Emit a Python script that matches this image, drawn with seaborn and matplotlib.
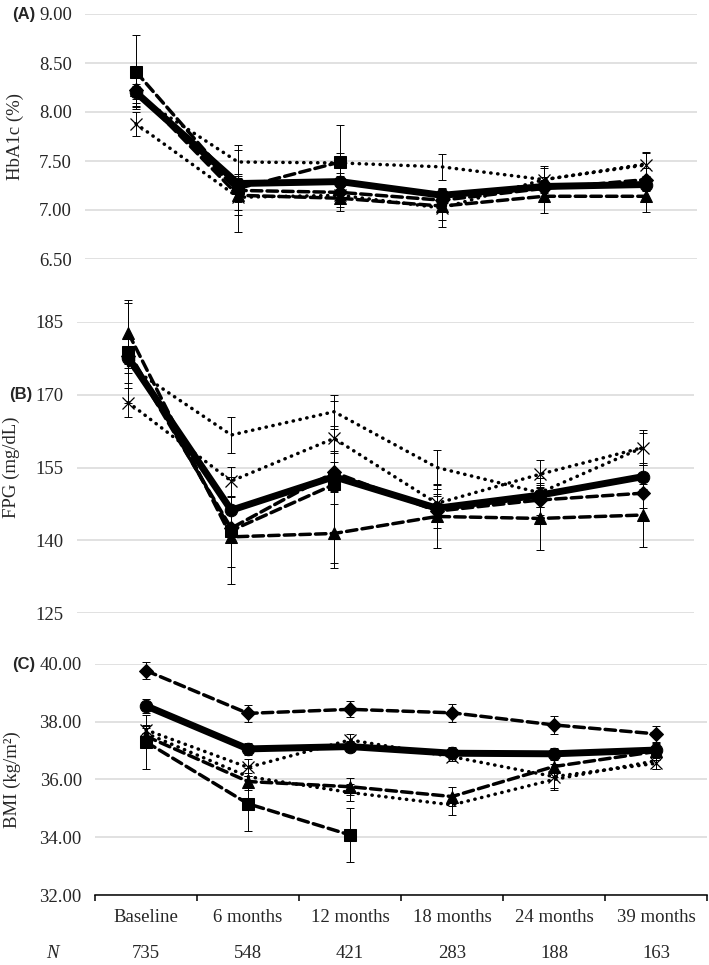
import numpy as np
import pandas as pd
import seaborn as sns
import matplotlib.pyplot as plt

# time points and patients at each visit
timepoints = ['Baseline', '6 months', '12 months', '18 months', '24 months', '39 months']
n_patients = [735, 548, 421, 283, 188, 163]

# (A) HbA1c (%)
hba1c_overall = [8.20, 7.27, 7.29, 7.15, 7.24, 7.26]
hba1c_overall_err = [0.07, 0.06, 0.06, 0.06, 0.06, 0.06]
hba1c_square = [8.41, 7.22, 7.49]
hba1c_square_err = [0.38, 0.44, 0.38]
hba1c_triangle = [8.22, 7.15, 7.12, 7.04, 7.14, 7.14]
hba1c_triangle_err = [0.16, 0.20, 0.13, 0.14, 0.17, 0.16]
hba1c_diamond = [8.22, 7.20, 7.18, 7.10, 7.22, 7.31]
hba1c_diamond_err = [0.13, 0.12, 0.12, 0.12, 0.12, 0.12]
hba1c_cross = [7.88, 7.13, 7.15, 7.02, 7.31, 7.46]
hba1c_cross_err = [0.12, 0.13, 0.12, 0.19, 0.14, 0.12]
hba1c_dotted = [8.17, 7.49, 7.48, 7.44, 7.31, 7.47]
hba1c_dotted_err = [0.12, 0.12, 0.10, 0.13, 0.12, 0.12]

# (B) FPG (mg/dL)
fpg_overall = [177.6, 146.2, 153.1, 146.6, 149.3, 153.1]
fpg_overall_err = [2.0, 2.8, 3.0, 2.5, 2.5, 2.5]
fpg_square = [178.9, 142.0, 151.5]
fpg_square_err = [10.6, 11.0, 17.3]
fpg_triangle = [182.7, 140.7, 141.4, 144.9, 144.5, 145.2]
fpg_triangle_err = [6.3, 6.3, 6.0, 6.6, 6.5, 6.5]
fpg_diamond = [178.0, 142.5, 154.0, 146.0, 148.3, 149.7]
fpg_diamond_err = [3.5, 3.0, 4.0, 3.5, 3.0, 3.0]
fpg_cross = [168.4, 152.2, 161.0, 147.6, 153.6, 159.1]
fpg_cross_err = [3.0, 3.0, 2.5, 3.0, 2.9, 3.6]
fpg_dotted = [176.0, 161.7, 166.5, 155.0, 149.8, 159.1]
fpg_dotted_err = [3.5, 3.7, 3.5, 3.6, 3.0, 3.1]

# (C) BMI (kg/m2)
bmi_overall = [38.55, 37.06, 37.14, 36.91, 36.89, 37.02]
bmi_overall_err = [0.23, 0.22, 0.20, 0.20, 0.20, 0.20]
bmi_square = [37.30, 35.16, 34.08]
bmi_square_err = [0.95, 0.96, 0.95]
bmi_triangle = [37.50, 35.93, 35.75, 35.41, 36.45, 36.97]
bmi_triangle_err = [0.30, 0.30, 0.30, 0.33, 0.35, 0.30]
bmi_diamond = [39.77, 38.29, 38.43, 38.31, 37.89, 37.58]
bmi_diamond_err = [0.30, 0.29, 0.28, 0.32, 0.30, 0.28]
bmi_cross = [37.72, 36.42, 37.37, 36.79, 36.10, 36.56]
bmi_cross_err = [0.12, 0.30, 0.20, 0.15, 0.45, 0.20]
bmi_dotted = [37.60, 36.10, 35.55, 35.12, 36.00, 36.65]
bmi_dotted_err = [0.30, 0.30, 0.30, 0.35, 0.30, 0.30]

sns.set_style('white')
plt.rcParams['font.family'] = ['Liberation Serif', 'DejaVu Serif']

W, H = 709, 965
fig = plt.figure(figsize=(W / 100, H / 100), dpi=100)


def px_axes(left, top, right, bottom):
    return fig.add_axes([left / W, 1 - bottom / H, (right - left) / W, (bottom - top) / H])


ax_a = px_axes(85, 14, 697, 259)
ax_b = px_axes(77, 322, 694, 613)
ax_c = px_axes(95, 664, 707, 895)

dash = (0, (3.0, 1.5))
dot = (0, (0.1, 1.9))
styles = {
    'square': dict(ls=dash, marker='s', ms=8, lw=2.5),
    'triangle': dict(ls=dash, marker='^', ms=9, lw=2.5),
    'diamond': dict(ls=dash, marker='D', ms=7, lw=2.5),
    'cross': dict(ls=dot, marker='x', ms=8.5, lw=2.5, mew=0.9),
    'dotted': dict(ls=dot, marker=None, lw=2.5),
    'overall': dict(ls='-', marker='o', ms=9, lw=5.0),
}

panels = [
    (ax_a, {'square': (hba1c_square, hba1c_square_err),
            'triangle': (hba1c_triangle, hba1c_triangle_err),
            'diamond': (hba1c_diamond, hba1c_diamond_err),
            'cross': (hba1c_cross, hba1c_cross_err),
            'dotted': (hba1c_dotted, hba1c_dotted_err),
            'overall': (hba1c_overall, hba1c_overall_err)},
     (6.5, 9.0), np.arange(6.5, 9.01, 0.5), '%.2f', 9.5),
    (ax_b, {'square': (fpg_square, fpg_square_err),
            'triangle': (fpg_triangle, fpg_triangle_err),
            'diamond': (fpg_diamond, fpg_diamond_err),
            'cross': (fpg_cross, fpg_cross_err),
            'dotted': (fpg_dotted, fpg_dotted_err),
            'overall': (fpg_overall, fpg_overall_err)},
     (125, 185), np.arange(125, 186, 15), '%d', 10),
    (ax_c, {'square': (bmi_square, bmi_square_err),
            'triangle': (bmi_triangle, bmi_triangle_err),
            'diamond': (bmi_diamond, bmi_diamond_err),
            'cross': (bmi_cross, bmi_cross_err),
            'dotted': (bmi_dotted, bmi_dotted_err),
            'overall': (bmi_overall, bmi_overall_err)},
     (32, 40), np.arange(32, 40.1, 2), '%.2f', 9.5),
]

for ax, series, ylim, yticks, fmt, pad in panels:
    for name, (vals, errs) in series.items():
        x = np.arange(len(vals))
        st = dict(styles[name])
        z = 5 if name == 'overall' else 3
        ax.errorbar(x, vals, yerr=errs, fmt='none', ecolor='black', elinewidth=0.7,
                    capsize=3.2, capthick=0.7, zorder=2, clip_on=False)
        sns.lineplot(x=x, y=vals, ax=ax, color='black', linestyle=st.pop('ls'),
                     marker=st.pop('marker'), markeredgecolor='black',
                     markerfacecolor='black', dash_capstyle='round',
                     solid_capstyle='round', clip_on=False, zorder=z, **st)
    ax.set_xlim(-0.5, 5.5)
    ax.set_ylim(*ylim)
    ax.set_yticks(yticks)
    ax.set_yticklabels([fmt % v for v in yticks])
    ax.tick_params(axis='y', length=0, pad=pad, labelsize=13.5)
    ax.grid(axis='y', color='#d9d9d9', lw=1.1)
    ax.set_axisbelow(True)
    ax.set_xlabel('')
    ax.set_ylabel('')
    for sp in ax.spines.values():
        sp.set_visible(False)
    ax.set_xticks([])

# x axis only on the bottom panel
ax_c.spines['bottom'].set_visible(True)
ax_c.spines['bottom'].set_color('black')
ax_c.spines['bottom'].set_linewidth(1.1)
ax_c.spines['bottom'].set_zorder(6)
ax_c.set_xticks(range(len(timepoints)))
ax_c.set_xticklabels(timepoints)
ax_c.set_xticks(np.arange(-0.5, 5.6, 1), minor=True)
ax_c.tick_params(axis='x', which='major', length=0, pad=10, labelsize=13.5)
ax_c.tick_params(axis='x', which='minor', length=4, width=1.1, color='black',
                 direction='out', bottom=True)

for i, n in enumerate(n_patients):
    ax_c.text(i, -(953 - 895) / 231, str(n), transform=ax_c.get_xaxis_transform(),
              ha='center', va='center', fontsize=13.5)
fig.text(52 / W, 1 - 953 / H, 'N', style='italic', ha='center', va='center', fontsize=13.5)

# panel tags and y labels
for tag, xpx, ypx in [('(A)', 35, 14), ('(B)', 32, 394), ('(C)', 35, 664)]:
    fig.text(xpx / W, 1 - ypx / H, tag, ha='right', va='center', fontsize=12,
             fontweight='bold', family='Liberation Sans')
for lab, xpx, ypx in [('HbA1c (%)', 15, 136), ('FPG (mg/dL)', 11, 467),
                      ('BMI (kg/m²)', 12, 780)]:
    fig.text(xpx / W, 1 - ypx / H, lab, rotation=90, ha='center', va='center',
             fontsize=13.5)

fig.savefig('out.png', dpi=100)
